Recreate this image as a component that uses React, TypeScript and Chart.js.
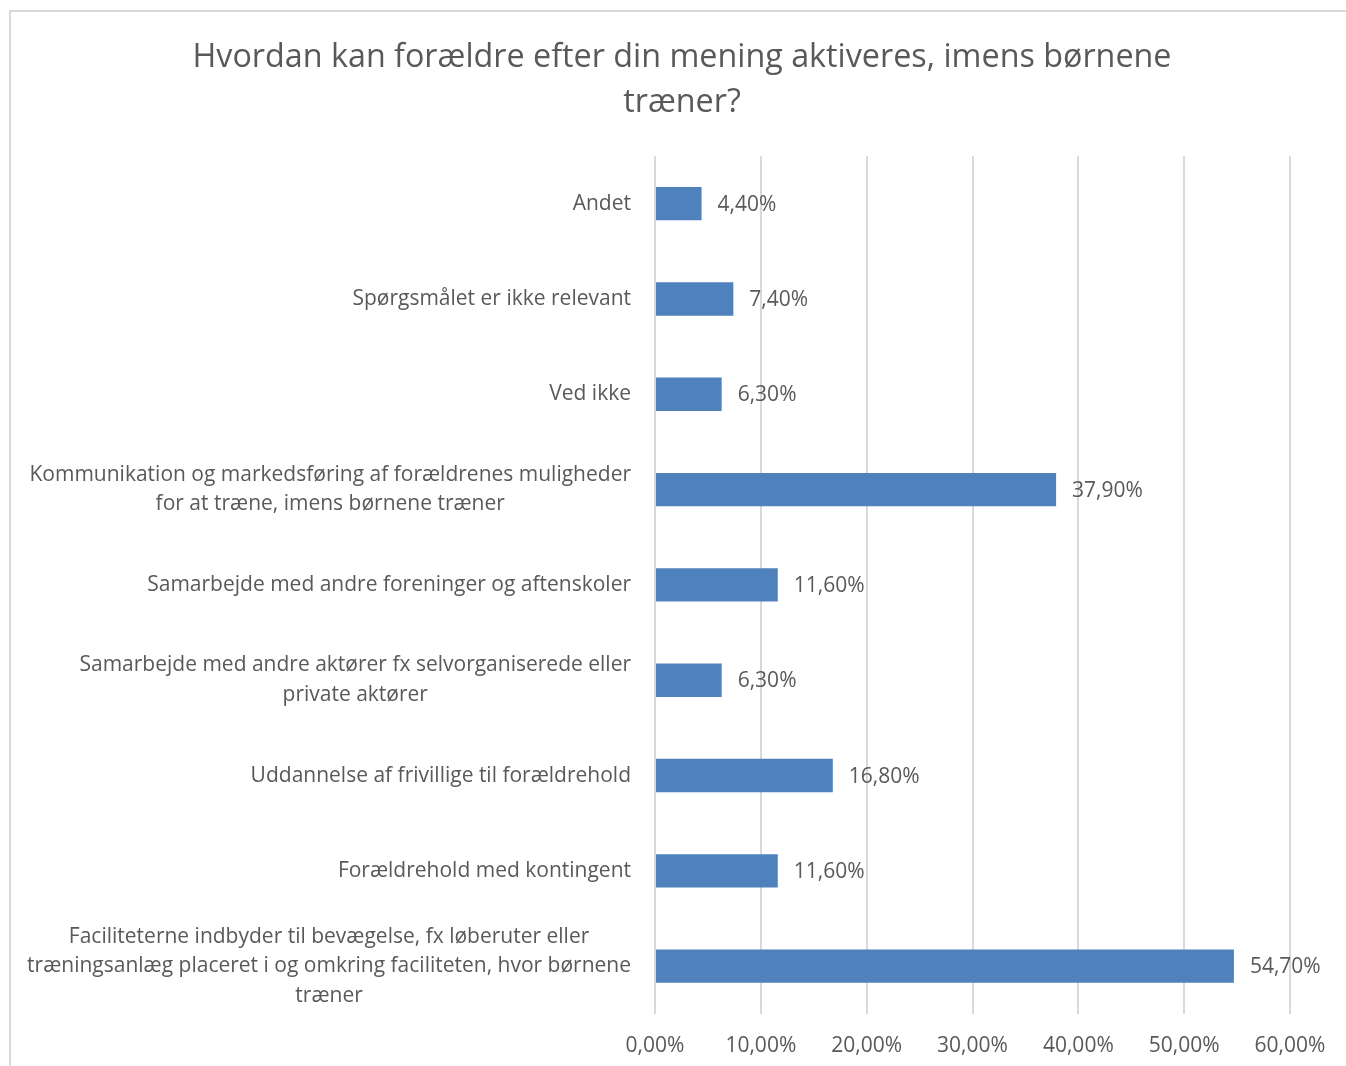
import React, { useEffect, useRef } from "react";
import { Chart, registerables } from "chart.js";

Chart.register(...registerables);

const titleLines = ["Hvordan kan forældre efter din mening aktiveres, imens børnene", "træner?"];

const categories: string[][] = [
  ["Andet"],
  ["Spørgsmålet er ikke relevant"],
  ["Ved ikke"],
  ["Kommunikation og markedsføring af forældrenes muligheder", "for at træne, imens børnene træner"],
  ["Samarbejde med andre foreninger og aftenskoler"],
  ["Samarbejde med andre aktører fx selvorganiserede eller", "private aktører"],
  ["Uddannelse af frivillige til forældrehold"],
  ["Forældrehold med kontingent"],
  ["Faciliteterne indbyder til bevægelse, fx løberuter eller", "træningsanlæg placeret i og omkring faciliteten, hvor børnene", "træner"],
];

const values: number[] = [4.4, 7.4, 6.3, 37.9, 11.6, 6.3, 16.8, 11.6, 54.7];

const axisMin = 0;
const axisMax = 60;
const axisStep = 10;

const FONT = "'Open Sans'";
const TEXT = "#595959";
const GRID = "#d9d9d9";
const BAR = "#4f81bd";
const LABEL_SIZE = 21;
const TITLE_SIZE = 32.3;

const fmt = (v: number) => v.toFixed(2).replace(".", ",") + "%";

const customText = {
  id: "customText",
  afterDraw(chart: any) {
    const ctx = chart.ctx;
    const area = chart.chartArea;
    const yScale = chart.scales.y;
    const xScale = chart.scales.x;
    ctx.save();
    ctx.fillStyle = TEXT;
    // title
    ctx.font = `${TITLE_SIZE}px ${FONT}`;
    ctx.textAlign = "center";
    ctx.textBaseline = "middle";
    const tcx = chart.width / 2 + 3.5;
    titleLines.forEach((l, j) => ctx.fillText(l, tcx, 46 + j * 45));
    // category labels
    ctx.font = `${LABEL_SIZE}px ${FONT}`;
    categories.forEach((lines, i) => {
      const y = yScale.getPixelForValue(i);
      const widths = lines.map((l) => ctx.measureText(l).width);
      const maxW = Math.max(...widths);
      const right = area.left - 24;
      const cx = right - maxW / 2;
      const lh = 29.5;
      const startY = y - ((lines.length - 1) * lh) / 2;
      ctx.textAlign = "center";
      lines.forEach((l, j) => ctx.fillText(l, cx, startY + j * lh));
    });
    // data labels
    ctx.textAlign = "left";
    values.forEach((v, i) => {
      const y = yScale.getPixelForValue(i);
      const x = xScale.getPixelForValue(v);
      ctx.fillText(fmt(v), x + 16, y + 1);
    });
    ctx.restore();
  },
};

export default function App() {
  const ref = useRef<HTMLCanvasElement | null>(null);
  useEffect(() => {
    if (!ref.current) return;
    const chart = new Chart(ref.current, {
      type: "bar",
      data: {
        labels: categories.map((c) => c.join(" ")),
        datasets: [
          {
            data: values,
            backgroundColor: BAR,
            borderWidth: 0,
            categoryPercentage: 1,
            barPercentage: 0.35,
          },
        ],
      },
      options: {
        indexAxis: "y",
        animation: false,
        responsive: false,
        devicePixelRatio: 1,
        layout: { padding: { top: 144, right: 56, bottom: -13, left: 0 } },
        plugins: {
          legend: { display: false },
          tooltip: { enabled: false },
          title: { display: false },
        },
        scales: {
          x: {
            min: axisMin,
            max: axisMax,
            grid: { color: GRID, lineWidth: 2, drawTicks: false },
            border: { display: false },
            ticks: {
              stepSize: axisStep,
              color: TEXT,
              padding: 20,
              font: { family: FONT, size: LABEL_SIZE },
              callback: (v: any) => fmt(Number(v)),
            },
          },
          y: {
            grid: { display: false },
            border: { display: false },
            ticks: { display: false },
            afterFit: (scale: any) => {
              scale.width = 644;
            },
          },
        },
      },
      plugins: [customText],
    });
    return () => chart.destroy();
  }, []);
  return (
    <div
      style={{
        position: "absolute",
        left: 9,
        top: 10,
        width: 1337,
        height: 1056,
        boxSizing: "border-box",
        borderTop: `2px solid ${GRID}`,
        borderLeft: `2px solid ${GRID}`,
        background: "#fff",
        overflow: "hidden",
      }}
    >
      <canvas ref={ref} width={1335} height={1054} style={{ display: "block" }} />
    </div>
  );
}
